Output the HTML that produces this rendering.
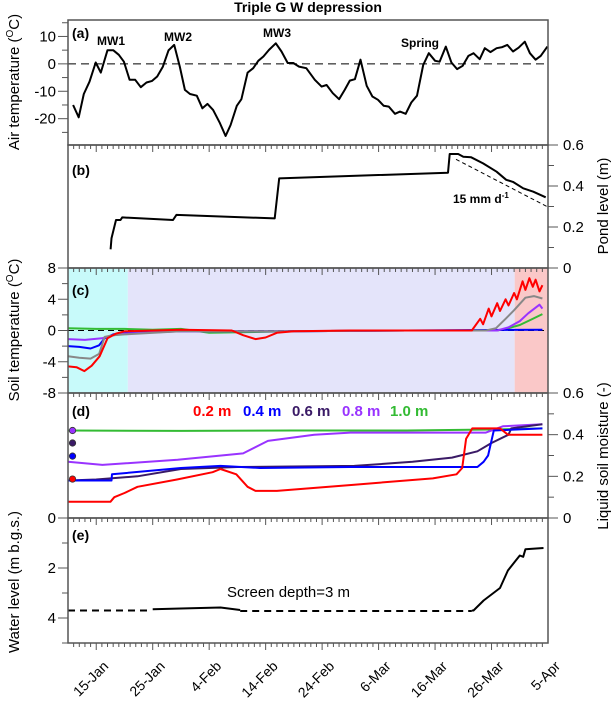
<!DOCTYPE html>
<html><head><meta charset="utf-8"><style>
body{margin:0;background:#fff}
svg{display:block;font-family:"Liberation Sans",Arial,sans-serif}
</style></head><body>
<svg id="chart" width="616" height="708" viewBox="0 0 616 708" xmlns="http://www.w3.org/2000/svg">
<text x="308" y="12" text-anchor="middle" font-size="14" font-weight="bold">Triple G W depression</text>
<g id="bg"></g><g id="marks"></g><g id="axes"></g>
<text transform="translate(19,82) rotate(-90)" text-anchor="middle" font-size="15">Air temperature (<tspan font-size="10" dy="-6">O</tspan><tspan dy="6">C)</tspan></text>
<text transform="translate(19,330) rotate(-90)" text-anchor="middle" font-size="15">Soil temperature (<tspan font-size="10" dy="-6">O</tspan><tspan dy="6">C)</tspan></text>
<text transform="translate(19,582) rotate(-90)" text-anchor="middle" font-size="15">Water level (m b.g.s.)</text>
<text transform="translate(608,206) rotate(-90)" text-anchor="middle" font-size="15">Pond level (m)</text>
<text transform="translate(608,456) rotate(-90)" text-anchor="middle" font-size="15">Liquid soil moisture (-)</text>
<g font-weight="bold" font-size="14">
<text x="72" y="38">(a)</text>
<text x="72" y="175">(b)</text>
<text x="72" y="295">(c)</text>
<text x="72" y="416">(d)</text>
<text x="72" y="540">(e)</text>
</g>
<g font-weight="bold" font-size="12">
<text x="97" y="45">MW1</text>
<text x="164" y="41">MW2</text>
<text x="263" y="37">MW3</text>
<text x="401" y="47">Spring</text>
<text x="453" y="203">15 mm d<tspan font-size="8" dy="-5">-1</tspan></text>
</g>
<text x="227" y="597" font-size="15">Screen depth=3 m</text>
<g font-weight="bold" font-size="15">
<text x="193" y="416" fill="#ff0000">0.2 m</text>
<text x="243" y="416" fill="#0000ff">0.4 m</text>
<text x="292" y="416" fill="#3a1a66">0.6 m</text>
<text x="342" y="416" fill="#9933ff">0.8 m</text>
<text x="390" y="416" fill="#33bb33">1.0 m</text>
</g>
</svg>
<script>
// days since 10-Jan
const airDays=[0.9,1.9,2.8,3.8,4.9,5.8,7,8,9,9.9,10.9,11.9,12.9,13.9,14.9,15.8,16.8,17.8,18.8,19.8,20.7,21.6,22.8,23.8,24.7,25.7,26.9,27.9,28.8,29.9,30.7,31.8,32.8,33.7,34.6,35.6,36.8,37.8,38.9,39.9,40.9,42.2,43.7,44.9,45.8,46.9,48,49,49.9,50.8,51.8,52.9,53.9,54.9,55.9,56.8,57.9,58.8,59.8,60.8,61.8,62.9,63.9,65,65.8,66.9,67.9,68.9,69.9,70.9,71.8,72.9,73.8,74.8,75.9,76.9,77.8,78.8,79.8,80.9,81.8,82.8,83.7,84.9];
const airTemp=[-15,-19.5,-11,-6.5,0.5,-3.2,5,5,3.3,0.8,-5.8,-5.8,-8.5,-6.8,-6.2,-4.6,-1,4.9,6.9,-1,-9.5,-11,-11.6,-16.2,-14.6,-16.8,-21.6,-26.3,-22.3,-15.3,-12.9,-3.2,-1.6,1.1,2.7,5.1,7.5,4.5,0.3,0.3,-1,-1.6,-5.8,-8.3,-7.7,-10.7,-12.9,-9.5,-6.1,-5.6,1.5,-8,-11.9,-13.1,-15.3,-15.6,-18.2,-17.4,-18.2,-14.1,-11.6,-0.4,3.9,1.1,0.8,6.3,0.5,-1.9,-0.7,2.9,3.9,1.7,5.7,4.3,5.7,6.1,6.9,4.5,5.9,8.1,3.9,1.5,2.9,6.3];
const pondDays=[7.55,7.7,8.5,9.3,9.6,18.6,19.2,36.6,37.4,67.3,67.6,69.1,70,71.4,73.5,75.9,77.6,78.8,80.6,82.4,84.6];
const pondLevel=[0.091,0.145,0.234,0.234,0.247,0.234,0.259,0.242,0.437,0.465,0.556,0.556,0.543,0.54,0.51,0.47,0.43,0.42,0.389,0.372,0.345];
const evapDays=[68.7,84.8];
const evapLevel=[0.53,0.3];
const stDays02=[0,1.5,2.9,4.2,5.6,7,8.5,10,20,29,31,33.2,35,37,40,50,60,71.5,73,73.5,74.5,75,76,76.5,77.5,78,79,79.5,80.5,81,81.7,82.3,82.8,83.5,84];
const stTemp02=[-4.6,-4.7,-5.2,-4.5,-3.3,-1,-0.4,-0.1,0.1,0,-0.6,-1.1,-0.9,-0.3,-0.1,0,0,0,1.5,0.8,2.8,1.8,3.5,2.5,4,3.2,4.8,4,6.3,5.2,6.7,5.6,6.5,5,5.8];
const stDays04=[0,2,4,5.5,6.5,8,10,20,40,60,84];
const stTemp04=[-2,-2.1,-2.3,-1.9,-1,-0.5,-0.3,-0.1,-0.1,0,0.1];
const stDaysGray=[0,2,4,5.5,6.5,8,10,20,40,60,74,75.8,77.5,79,81,82.5,84];
const stTempGray=[-3.3,-3.5,-3.6,-3,-0.8,-0.6,-0.5,-0.1,-0.1,0,0,0.3,1.5,2.6,4.2,4.4,4.1];
const stDays08=[0,3,6,8,10,20,40,60,76,78,80,81.5,83.5,84];
const stTemp08=[-1.1,-1.2,-1,-0.6,-0.4,-0.1,-0.1,0,0,0.4,1.2,2.2,3.3,2.8];
const stDays10=[0,5,10,15,20,25,40,60,76,78,80,82,84];
const stTemp10=[0.3,0.2,0.2,0.1,0.2,-0.3,-0.1,0,0,0.3,0.7,1.4,2.1];
const smDays02=[0,7.5,8.2,10,12.3,19.3,25.6,27,29.8,31.8,33.2,37,50.7,64.6,68.8,69.8,70.5,71.6,76.5,77.9,84];
const smVal02=[0.078,0.078,0.1,0.12,0.15,0.185,0.22,0.235,0.21,0.15,0.13,0.13,0.16,0.19,0.21,0.24,0.38,0.43,0.43,0.40,0.40];
const smDays04=[0,7.7,7.8,20,27,34,50,72.5,73.6,74.4,75.4,84];
const smVal04=[0.18,0.18,0.21,0.24,0.25,0.24,0.245,0.245,0.27,0.30,0.42,0.43];
const smDays06=[0,5,12.3,20,30,50.7,61,68,72.5,75,78,78.5,84];
const smVal06=[0.18,0.185,0.2,0.235,0.245,0.25,0.27,0.29,0.32,0.36,0.40,0.43,0.45];
const smDays08=[0,6.1,19.4,31,35.4,43.6,50,74,77,84];
const smVal08=[0.27,0.255,0.28,0.31,0.37,0.40,0.41,0.41,0.44,0.45];
const smDays10=[0,20,40,60,75,84];
const smVal10=[0.42,0.418,0.42,0.42,0.425,0.43];
const sensorDepthDots=[0.2,0.4,0.6,0.8];
const wlDashDays1=[0,14.8];
const wlDashVal1=[3.7,3.7];
const wlSolidDays1=[15,20,27,30.5];
const wlSolidVal1=[3.65,3.62,3.58,3.68];
const wlDashDays2=[30.5,71.5];
const wlDashVal2=[3.72,3.72];
const wlSolidDays2=[71.5,71.8,73.6,76.5,77.9,79.3,80,80.6,81,84.2];
const wlSolidVal2=[3.7,3.7,3.3,2.8,2.1,1.7,1.5,1.55,1.25,1.2];
const dateLabels=["15-Jan","25-Jan","4-Feb","14-Feb","24-Feb","6-Mar","16-Mar","26-Mar","5-Apr"];
const dateDays=[5,15,25,35,45,55,65,75,85];
const shadeDays=[0,10.6,79.1,85];

const NS="http://www.w3.org/2000/svg";
const L=68,R=548;
const X=d=>L+d*(R-L)/85;
const P={a:[20,145,16,-29.6],b:[145,268,0.6,0],c:[268,393,8,-8],d:[393,518,0.6,0],e:[518,643,0,5]};
const Y=(p,v)=>{const [t,b,vt,vb]=P[p];return t+(v-vt)*(b-t)/(vb-vt);};
function mk(tag,attrs,parent){const e=document.createElementNS(NS,tag);for(const k in attrs)e.setAttribute(k,attrs[k]);document.getElementById(parent).appendChild(e);return e;}
function line(p,days,vals,color,w,name,dash){
  const pts=days.map((d,i)=>X(d).toFixed(1)+","+Y(p,vals[i]).toFixed(1)).join(" ");
  const e=mk("polyline",{points:pts,fill:"none",stroke:color,"stroke-width":w,"stroke-linejoin":"round"},"marks");
  if(dash)e.setAttribute("stroke-dasharray",dash);
  
  
}
const shadeCols=["#c8fafa","#e4e4fa","#fac8c8"];
for(let i=0;i<3;i++){
  const r=mk("rect",{x:X(shadeDays[i]),y:268,width:X(shadeDays[i+1])-X(shadeDays[i]),height:125,fill:shadeCols[i]},"bg");
  
  
}
let z=mk("line",{x1:L,x2:R,y1:Y('a',0),y2:Y('a',0),stroke:"#000","stroke-dasharray":"8,5"},"marks");


z=mk("line",{x1:L,x2:R,y1:Y('c',0),y2:Y('c',0),stroke:"#000","stroke-dasharray":"6,4"},"marks");


line('a',airDays,airTemp,"#000",2,"air-temp-line");
line('b',pondDays,pondLevel,"#000",2,"pond-level-line");
line('b',evapDays,evapLevel,"#000",1,"evap-rate-line","4,3");
line('c',stDays10,stTemp10,"#33bb33",2,"soil-temp-1.0m");
line('c',stDays04,stTemp04,"#0000ff",2,"soil-temp-0.4m");
line('c',stDays08,stTemp08,"#9933ff",2,"soil-temp-0.8m");
line('c',stDaysGray,stTempGray,"#888888",2,"soil-temp-0.6m");
line('c',stDays02,stTemp02,"#ff0000",2,"soil-temp-0.2m");
line('d',smDays10,smVal10,"#33bb33",2,"moisture-1.0m");
line('d',smDays08,smVal08,"#9933ff",2,"moisture-0.8m");
line('d',smDays06,smVal06,"#3a1a66",2,"moisture-0.6m");
line('d',smDays04,smVal04,"#0000ff",2,"moisture-0.4m");
line('d',smDays02,smVal02,"#ff0000",2,"moisture-0.2m");
const dotCols=["#ff0000","#0000ff","#3a1a66","#9933ff"];
const dotVals=[0.187,0.297,0.36,0.42];
sensorDepthDots.forEach((s,i)=>{
  const c=mk("circle",{cx:X(0.8),cy:Y('d',dotVals[i]),r:3.2,fill:dotCols[i],stroke:"#333","stroke-width":0.8},"marks");
  
  
});
line('e',wlDashDays1,wlDashVal1,"#000",2,"water-level-dashed-1","7,5");
line('e',wlSolidDays1,wlSolidVal1,"#000",2,"water-level-solid-1");
line('e',wlDashDays2,wlDashVal2,"#000",2,"water-level-dashed-2","7,5");
line('e',wlSolidDays2,wlSolidVal2,"#000",2,"water-level-solid-2");
for(const p in P){
  const [t,b]=P[p];
  const r=mk("rect",{x:L,y:t,width:R-L,height:b-t,fill:"none",stroke:"#555","stroke-width":1.5},"axes");
  
  
  if(p!=='a'){
    for(let d=1;d<85;d++){
      const len=(d%10===5)?7:4;
      mk("line",{x1:X(d),x2:X(d),y1:t,y2:t+len,stroke:"#555"},"axes");
    }
  }
}
for(let d=1;d<85;d++){const len=(d%10===5)?7:4;mk("line",{x1:X(d),x2:X(d),y1:643,y2:643+len,stroke:"#555"},"axes");}
function yt(p,vals,labels,side){
  vals.forEach((v,i)=>{
    const y=Y(p,v);
    const major=labels[i]!=="";
    const len=major?10:6;
    if(side==='l')mk("line",{x1:L-len,x2:L,y1:y,y2:y,stroke:"#555"},"axes");
    else mk("line",{x1:R,x2:R+len,y1:y,y2:y,stroke:"#555"},"axes");
    if(major){
      const t=mk("text",{x:side==='l'?L-12:R+15,y:y+5,"font-size":15,"text-anchor":side==='l'?"end":"start"},"axes");
      t.textContent=labels[i];
      
      
    }
  });
}
yt('a',[15,10,5,0,-5,-10,-15,-20,-25],["","10","","0","","-10","","-20",""],'l');
yt('c',[8,6,4,2,0,-2,-4,-6,-8],["8","","4","","0","","-4","","-8"],'l');
yt('e',[0,1,2,3,4,5],["0","","2","","4",""],'l');
yt('b',[0.6,0.5,0.4,0.3,0.2,0.1,0],["0.6","","0.4","","0.2","","0"],'r');
yt('d',[0.6,0.5,0.4,0.3,0.2,0.1,0],["0.6","","0.4","","0.2","","0"],'r');
dateLabels.forEach((s,i)=>{
  const x=X(dateDays[i])+13,y=667;
  const t=mk("text",{x:x,y:y,"font-size":14,"text-anchor":"end",transform:`rotate(-45 ${x} ${y})`},"axes");
  t.textContent=s;
  
  
});
</script>
</body></html>
